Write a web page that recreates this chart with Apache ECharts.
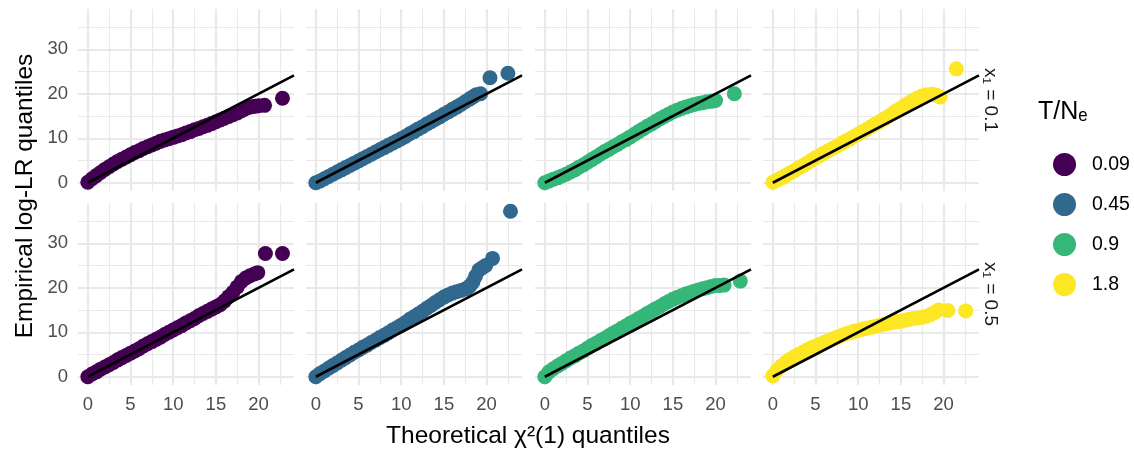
<!DOCTYPE html>
<html><head><meta charset="utf-8">
<script src="https://cdn.jsdelivr.net/npm/echarts@6/dist/echarts.min.js"></script>
<style>html,body{margin:0;padding:0;background:#fff}#c{width:1134px;height:454px}</style>
</head><body><div id="c"></div>
<script>
const tauLabels = ['0.09', '0.45', '0.9', '1.8'];
const stripLabels = ['x\u2081 = 0.1', 'x\u2081 = 0.5'];
const xTicks = [0, 5, 10, 15, 20];
const xMinor = [2.5, 7.5, 12.5, 17.5, 22.5];
const yTicks = [0, 10, 20, 30];
const yMinor = [5, 15, 25, 35];
const refLine = [[0, 0], [24.15, 24.15]];

// x1 = 0.1 row
const top009 = [[0,0.1],[0.5,0.9],[1,1.6],[1.5,2.3],[2,3.0],[2.5,3.6],[3,4.2],[3.5,4.8],[4,5.3],[4.5,5.8],[5,6.3],[5.5,6.8],[6,7.2],[6.5,7.7],[7,8.1],[7.5,8.5],[8,8.9],[8.5,9.3],[9,9.6],[9.5,9.9],[10,10.2],[10.5,10.5],[11,10.8],[11.5,11.2],[12,11.5],[12.5,11.9],[13,12.2],[13.5,12.6],[14,12.9],[14.5,13.3],[15,13.7],[15.5,14.1],[16,14.5],[16.5,14.9],[17,15.3],[17.5,15.7],[18,16.2],[18.4,16.6],[18.8,16.9],[19.2,17.1],[19.6,17.2],[20.0,17.3],[20.7,17.4],[22.8,19.0]];
const top045 = [[0,0],[0.5,0.4],[1,0.9],[1.5,1.4],[2,1.9],[2.5,2.4],[3,2.9],[3.5,3.4],[4,3.9],[4.5,4.4],[5,4.9],[5.5,5.4],[6,5.9],[6.5,6.4],[7,6.9],[7.5,7.4],[8,7.9],[8.5,8.4],[9,8.9],[9.5,9.4],[10,9.9],[10.5,10.4],[11,11.0],[11.5,11.5],[12,12.1],[12.5,12.6],[13,13.2],[13.5,13.7],[14,14.3],[14.5,14.8],[15,15.4],[15.5,15.9],[16,16.5],[16.5,17.0],[17,17.6],[17.5,18.2],[18,18.8],[18.4,19.3],[18.8,19.8],[19.3,20.0],[20.4,23.6],[22.5,24.6]];
const top09 = [[0,0],[0.5,0.4],[1,0.8],[1.5,1.1],[2,1.5],[2.5,1.9],[3,2.4],[3.5,2.9],[4,3.5],[4.5,4.0],[5,4.6],[5.5,5.2],[6,5.8],[6.5,6.4],[7,7.0],[7.5,7.5],[8,8.1],[8.5,8.6],[9,9.2],[9.5,9.7],[10,10.3],[10.5,10.9],[11,11.5],[11.5,12.1],[12,12.7],[12.5,13.2],[13,13.8],[13.5,14.4],[14,14.9],[14.5,15.4],[15,15.9],[15.5,16.3],[16,16.7],[16.5,17.0],[17,17.3],[17.5,17.6],[18,17.8],[18.5,18.0],[19,18.2],[19.5,18.3],[20,18.5],[22.2,20.0]];
const top18 = [[0,0.1],[0.5,0.6],[1,1.1],[1.5,1.6],[2,2.2],[2.5,2.7],[3,3.3],[3.5,3.8],[4,4.4],[4.5,5.0],[5,5.6],[5.5,6.1],[6,6.7],[6.5,7.2],[7,7.7],[7.5,8.2],[8,8.8],[8.5,9.3],[9,9.8],[9.5,10.4],[10,10.9],[10.5,11.5],[11,12.0],[11.5,12.6],[12,13.2],[12.5,13.7],[13,14.3],[13.5,14.9],[14,15.5],[14.5,16.2],[15,16.8],[15.5,17.4],[16,18.0],[16.5,18.6],[17,19.1],[17.5,19.5],[18,19.8],[18.6,19.9],[19.1,19.7],[19.6,19.3],[21.5,25.6]];

// x1 = 0.5 row
const bot009 = [[0,0],[0.5,0.6],[1,1.1],[1.5,1.7],[2,2.2],[2.5,2.7],[3,3.2],[3.5,3.8],[4,4.3],[4.5,4.8],[5,5.3],[5.5,5.8],[6,6.3],[6.5,6.9],[7,7.4],[7.5,7.9],[8,8.4],[8.5,8.9],[9,9.5],[9.5,10.0],[10,10.5],[10.5,11.0],[11,11.5],[11.5,12.1],[12,12.6],[12.5,13.1],[13,13.7],[13.5,14.2],[14,14.7],[14.5,15.2],[15,15.7],[15.5,16.2],[16,17.0],[16.5,18.0],[17,19.0],[17.5,20.2],[18,21.4],[18.5,22.2],[19,22.7],[19.5,23.1],[19.9,23.4],[20.8,27.7],[22.8,27.7]];
const bot045 = [[0,0],[0.5,0.7],[1,1.3],[1.5,1.9],[2,2.5],[2.5,3.1],[3,3.7],[3.5,4.3],[4,4.9],[4.5,5.5],[5,6.0],[5.5,6.6],[6,7.1],[6.5,7.7],[7,8.2],[7.5,8.8],[8,9.3],[8.5,9.9],[9,10.5],[9.5,11.0],[10,11.6],[10.5,12.2],[11,12.9],[11.5,13.5],[12,14.1],[12.5,14.7],[13,15.4],[13.5,16.0],[14,16.7],[14.5,17.3],[15,17.9],[15.5,18.4],[16,18.8],[16.5,19.1],[17,19.4],[17.5,19.7],[17.8,20.0],[18.1,20.5],[18.4,21.3],[18.7,22.6],[19.1,24.0],[19.5,24.5],[19.9,25.0],[20.7,26.6],[22.8,37.2]];
const bot09 = [[0,0],[0.5,1.1],[1,1.8],[1.5,2.4],[2,3.0],[2.5,3.6],[3,4.2],[3.5,4.7],[4,5.3],[4.5,5.8],[5,6.4],[5.5,7.0],[6,7.5],[6.5,8.1],[7,8.6],[7.5,9.2],[8,9.8],[8.5,10.3],[9,10.9],[9.5,11.4],[10,12.0],[10.5,12.5],[11,13.1],[11.5,13.6],[12,14.2],[12.5,14.7],[13,15.3],[13.5,15.8],[14,16.4],[14.5,16.9],[15,17.4],[15.5,17.8],[16,18.2],[16.5,18.6],[17,18.9],[17.5,19.2],[18,19.5],[18.5,19.8],[19,20.0],[19.5,20.3],[20,20.5],[20.5,20.5],[21,20.6],[22.9,21.5]];
const bot18 = [[0,0.2],[0.5,1.5],[1,2.4],[1.5,3.2],[2,3.9],[2.5,4.5],[3,5.0],[3.5,5.5],[4,6.0],[4.5,6.5],[5,6.9],[5.5,7.3],[6,7.7],[6.5,8.1],[7,8.5],[7.5,8.9],[8,9.2],[8.5,9.6],[9,9.9],[9.5,10.2],[10,10.4],[10.5,10.7],[11,10.9],[11.5,11.1],[12,11.3],[12.5,11.6],[13,11.8],[13.5,12.0],[14,12.2],[14.5,12.4],[15,12.5],[15.5,12.7],[16,12.9],[16.5,13.1],[17,13.2],[17.5,13.4],[18,13.6],[18.5,14.0],[18.9,14.4],[19.4,15.0],[20.5,14.9],[22.6,14.8]];

const panelData = [[top009, top045, top09, top18], [bot009, bot045, bot09, bot18]];
const colors = ['#440154', '#31688E', '#35B779', '#FDE725'];
const FONT = '"Liberation Sans", Arial, "DejaVu Sans", sans-serif';

const colLeft = [78, 306, 535, 763];
const rowTop = [9, 203];
const PW = 216, PH = 182;
const XMIN = -1.15, XMAX = 24.15, YMIN = -1.86, YMAX = 39.06;

const grids = [], xAxes = [], yAxes = [], series = [];
for (let r = 0; r < 2; r++) {
  for (let c = 0; c < 4; c++) {
    const i = r * 4 + c;
    grids.push({ left: colLeft[c], top: rowTop[r], width: PW, height: PH, containLabel: false });
    xAxes.push({
      gridIndex: i, type: 'value', min: XMIN, max: XMAX,
      splitLine: { show: false }, axisLine: { show: false }, axisTick: { show: false },
      axisLabel: { show: r === 1, customValues: xTicks, color: '#4d4d4d', fontSize: 18.5, margin: 10, fontFamily: FONT }
    });
    yAxes.push({
      gridIndex: i, type: 'value', min: YMIN, max: YMAX,
      splitLine: { show: false }, axisLine: { show: false }, axisTick: { show: false },
      axisLabel: { show: c === 0, customValues: yTicks, color: '#4d4d4d', fontSize: 18.5, margin: 10, fontFamily: FONT }
    });
    const gl = [];
    xMinor.forEach(v => gl.push({ xAxis: v, lineStyle: { width: 1.1 } }));
    yMinor.forEach(v => gl.push({ yAxis: v, lineStyle: { width: 1.1 } }));
    xTicks.forEach(v => gl.push({ xAxis: v, lineStyle: { width: 2.2 } }));
    yTicks.forEach(v => gl.push({ yAxis: v, lineStyle: { width: 2.2 } }));
    series.push({
      type: 'line', xAxisIndex: i, yAxisIndex: i, data: [], silent: true, z: 0, zlevel: 0, animation: false,
      markLine: { silent: true, z: 0, symbol: ['none', 'none'], animation: false, label: { show: false },
        lineStyle: { color: '#e9e9e9', type: 'solid' }, emphasis: { disabled: true }, data: gl }
    });
    series.push({
      type: 'scatter', name: tauLabels[c], xAxisIndex: i, yAxisIndex: i, data: panelData[r][c],
      symbol: 'circle', symbolSize: 15, itemStyle: { color: colors[c], opacity: 1 }, z: 5, silent: true, animation: false
    });
    series.push({
      type: 'line', xAxisIndex: i, yAxisIndex: i, data: refLine, symbol: 'none',
      lineStyle: { color: '#000', width: 2.6 }, z: 6, silent: true, animation: false
    });
  }
}

const chart = echarts.init(document.getElementById('c'), null, { renderer: 'canvas' });
chart.setOption({
  backgroundColor: '#fff',
  animation: false,
  grid: grids, xAxis: xAxes, yAxis: yAxes, series: series,
  legend: {
    data: tauLabels.map(n => ({ name: n, icon: 'circle' })),
    orient: 'vertical', left: 1048, top: 148, itemWidth: 23, itemHeight: 23, itemGap: 17,
    selectedMode: false,
    textStyle: { fontSize: 19.5, color: '#000', fontFamily: FONT, padding: [0, 0, 0, 11] }
  },
  graphic: [
    { type: 'text', x: 25, y: 196, rotation: Math.PI / 2,
      style: { text: 'Empirical log-LR quantiles', fontSize: 24.5, fill: '#000', fontFamily: FONT, textAlign: 'center', textVerticalAlign: 'middle' } },
    { type: 'text', x: 528, y: 436,
      style: { text: 'Theoretical \u03C7\u00B2(1) quantiles', fontSize: 24.5, fill: '#000', fontFamily: FONT, textAlign: 'center', textVerticalAlign: 'middle' } },
    { type: 'text', x: 990, y: rowTop[0] + PH / 2, rotation: -Math.PI / 2,
      style: { text: stripLabels[0], fontSize: 19, fill: '#1a1a1a', fontFamily: FONT, textAlign: 'center', textVerticalAlign: 'middle' } },
    { type: 'text', x: 990, y: rowTop[1] + PH / 2, rotation: -Math.PI / 2,
      style: { text: stripLabels[1], fontSize: 19, fill: '#1a1a1a', fontFamily: FONT, textAlign: 'center', textVerticalAlign: 'middle' } },
    { type: 'text', x: 1038, y: 112,
      style: { text: 'T/N\u2091', fontSize: 25, fill: '#000', fontFamily: FONT, textAlign: 'left', textVerticalAlign: 'middle' } }
  ]
});
</script>
</body></html>
